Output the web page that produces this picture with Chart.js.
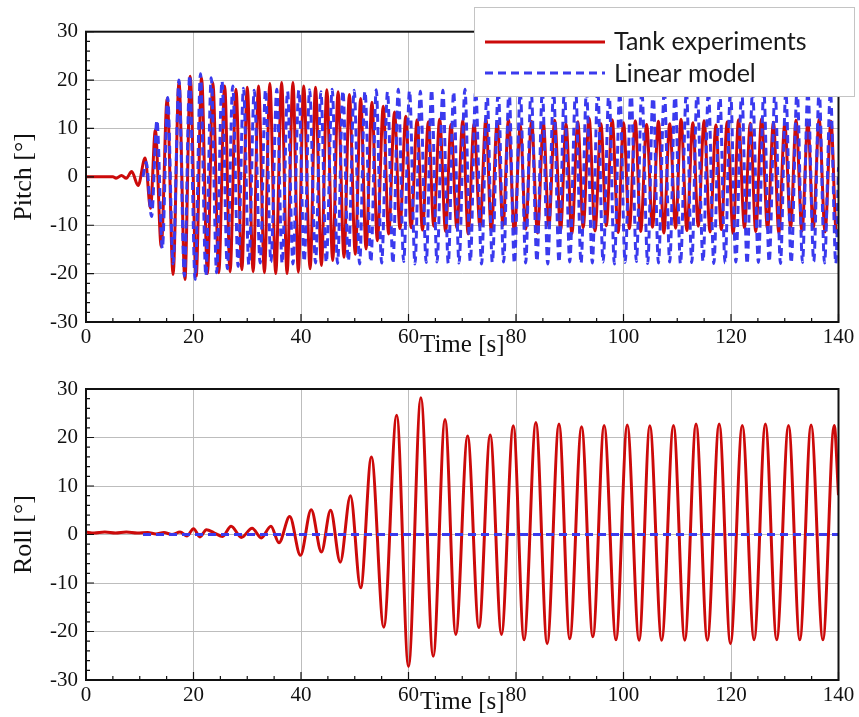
<!DOCTYPE html>
<html>
<head>
<meta charset="utf-8">
<script src="https://cdn.jsdelivr.net/npm/chart.js@4.4.1/dist/chart.umd.min.js"></script>
<style>
html, body { margin: 0; padding: 0; background: #fff; }
#wrap { position: relative; width: 859px; height: 717px; }
.box { position: absolute; left: 0; width: 859px; }
</style>
</head>
<body>
<div id="wrap">
  <div class="box" style="top:0;height:360px"><canvas id="pitchChart"></canvas></div>
  <div class="box" style="top:360px;height:357px"><canvas id="rollChart"></canvas></div>
</div>
<script>
const pitchTankT = [
  0, 5.0, 5.6, 6.6, 7.5, 8.5, 9.7, 11.0,
  12.0, 12.9, 14.0, 15.1, 16.2, 17.3, 18.4, 19.4,
  20.5, 21.5, 22.6, 23.6, 24.7, 25.8, 26.8, 27.9,
  29.0, 30.0, 31.1, 32.1, 33.2, 34.2, 35.3, 36.4,
  37.4, 38.5, 39.5, 40.5, 41.7, 42.7, 43.8, 44.8,
  45.9, 46.9, 48.0, 49.0, 50.1, 51.1, 52.1, 53.2,
  54.2, 55.3, 56.3, 57.4, 58.4, 59.5, 60.5, 61.6,
  62.6, 63.7, 64.7, 65.8, 66.9, 67.9, 69.0, 70.1,
  71.1, 72.2, 73.3, 74.4, 75.4, 76.5, 77.6, 78.6,
  79.7, 80.8, 81.8, 82.9, 84.0, 85.1, 86.1, 87.2,
  88.3, 89.3, 90.4, 91.5, 92.5, 93.6, 94.7, 95.8,
  96.8, 97.9, 99.0, 100.0, 101.1, 102.2, 103.2, 104.3,
  105.4, 106.5, 107.5, 108.6, 109.7, 110.7, 111.8, 112.9,
  113.9, 115.0, 116.1, 117.2, 118.2, 119.3, 120.4, 121.4,
  122.5, 123.6, 124.6, 125.7, 126.8, 127.9, 128.9, 130.0,
  131.1, 132.1, 133.2, 134.3, 135.3, 136.4, 137.5, 138.6,
  139.6, 140
];
const pitchTankV = [
  0, 0, -0.3, 0.3, -0.3, 1.1, -1.8, 3.9,
  -6.5, 9.7, -14.4, 16.2, -20.2, 19.7, -21.2, 20.8,
  -20.5, 20.5, -20.0, 19.5, -19.8, 18.8, -19.6, 18.1,
  -19.2, 18.5, -19.6, 18.8, -19.8, 19.3, -20.0, 19.5,
  -20.0, 19.5, -19.7, 18.8, -19.0, 18.5, -18.3, 18.0,
  -17.3, 17.6, -16.6, 17.0, -16.0, 16.2, -14.9, 15.4,
  -13.2, 14.6, -11.8, 13.4, -10.7, 12.5, -10.5, 11.8,
  -11.0, 11.4, -10.2, 11.9, -11.3, 10.8, -10.6, 11.6,
  -11.8, 11.0, -10.4, 12.0, -11.2, 11.3, -10.0, 11.8,
  -11.5, 10.6, -10.8, 11.5, -11.6, 11.1, -10.3, 11.7,
  -11.0, 10.9, -11.7, 11.4, -10.5, 12.1, -11.2, 11.0,
  -10.1, 11.8, -11.5, 11.2, -10.7, 11.6, -11.3, 10.8,
  -10.4, 11.5, -11.6, 11.0, -10.6, 11.9, -11.1, 11.2,
  -10.2, 11.6, -11.4, 10.7, -10.9, 11.4, -11.7, 11.8,
  -10.5, 11.1, -11.3, 12.0, -10.8, 11.3, -11.6, 10.9,
  -10.4, 11.7, -11.2, 11.2, -10.6, 11.9, -11.4, 11.5,
  -11.6, -11.0
];

// pitch, linear model
const pitchModelT = [
  10.6, 11.2, 12.2, 13.2, 14.2, 15.2, 16.2, 17.3,
  18.3, 19.3, 20.3, 21.3, 22.3, 23.3, 24.3, 25.3,
  26.3, 27.3, 28.3, 29.3, 30.3, 31.3, 32.4, 33.4,
  34.4, 35.5, 36.5, 37.5, 38.5, 39.6, 40.6, 41.6,
  42.7, 43.7, 44.7, 45.8, 46.8, 47.8, 48.8, 49.9,
  50.9, 51.9, 53.0, 54.0, 55.0, 56.1, 57.1, 58.1,
  59.1, 60.2, 61.2, 62.2, 63.3, 64.3, 65.3, 66.4,
  67.4, 68.4, 69.4, 70.5, 71.5, 72.5, 73.6, 74.6,
  75.6, 76.7, 77.7, 78.7, 79.7, 80.8, 81.8, 82.8,
  83.9, 84.9, 85.9, 87.0, 88.0, 89.0, 90.0, 91.1,
  92.1, 93.1, 94.2, 95.2, 96.2, 97.3, 98.3, 99.3,
  100.3, 101.4, 102.4, 103.4, 104.5, 105.5, 106.5, 107.6,
  108.6, 109.6, 110.6, 111.7, 112.7, 113.7, 114.8, 115.8,
  116.8, 117.9, 118.9, 119.9, 120.9, 122.0, 123.0, 124.0,
  125.1, 126.1, 127.1, 128.2, 129.2, 130.2, 131.2, 132.3,
  133.3, 134.3, 135.4, 136.4, 137.4, 138.5, 139.5, 140.0
];
const pitchModelV = [
  0, 3.0, -8.2, 11.7, -14.8, 16.4, -18.0, 20.0,
  -20.5, 21.0, -21.2, 21.3, -20.5, 20.5, -19.8, 19.8,
  -19.0, 18.8, -18.5, 18.3, -18.2, 17.9, -17.8, 18.0,
  -17.6, 18.1, -17.9, 17.7, -18.0, 17.9, -17.5, 18.0,
  -17.8, 17.6, -17.7, 18.1, -17.9, 17.8, -17.4, 17.9,
  -18.0, 17.7, -17.6, 18.0, -17.8, 17.6, -17.9, 18.1,
  -17.5, 17.8, -18.0, 17.7, -17.7, 18.0, -17.6, 17.9,
  -17.9, 17.6, -17.8, 18.1, -17.5, 17.8, -18.0, 17.7,
  -17.7, 17.9, -17.6, 18.0, -17.9, 17.6, -17.8, 18.1,
  -17.5, 17.8, -18.0, 17.7, -17.7, 17.9, -17.6, 18.0,
  -17.9, 17.6, -17.8, 18.1, -17.6, 17.8, -18.0, 17.7,
  -17.7, 18.0, -17.5, 17.9, -17.9, 17.6, -17.8, 18.1,
  -17.6, 17.8, -18.0, 17.7, -17.7, 18.0, -17.5, 17.9,
  -17.9, 17.6, -17.8, 18.1, -17.6, 17.8, -18.0, 17.7,
  -17.7, 17.9, -17.6, 18.0, -17.9, 17.6, -17.8, 18.1,
  -17.7, 17.9, -17.5, 18.0, -17.8, 17.6, -17.9, 2.0
];

// roll, tank experiments
const rollTankT = [
  0, 1.5, 3.5, 5.5, 7.5, 9.5, 11.5, 13.0,
  14.5, 16.0, 17.5, 18.8, 20.0, 21.2, 22.4, 23.9,
  25.4, 27.0, 28.9, 30.9, 32.6, 34.4, 35.9, 37.9,
  39.9, 41.9, 43.8, 45.5, 47.3, 49.2, 51.1, 53.1,
  55.4, 57.8, 60.0, 62.3, 64.6, 66.8, 68.8, 71.0,
  73.1, 75.2, 77.3, 79.5, 81.5, 83.7, 85.8, 88.0,
  90.0, 92.2, 94.3, 96.4, 98.6, 100.7, 102.9, 104.9,
  107.1, 109.3, 111.4, 113.5, 115.6, 117.8, 119.9, 122.1,
  124.3, 126.4, 128.5, 130.7, 132.8, 134.9, 137.1, 139.2,
  140.0
];
const rollTankV = [
  0.5, 0.3, 0.5, 0.3, 0.5, 0.3, 0.4, 0.1,
  0.4, 0.0, 0.5, -0.3, 1.2, -0.5, 1.0, 0.3,
  -0.4, 1.7, -0.6, 1.3, -0.7, 1.7, -1.7, 3.7,
  -4.3, 5.1, -3.6, 5.0, -5.7, 8.0, -11.0, 16.0,
  -19.1, 24.6, -27.2, 28.2, -25.1, 23.7, -20.6, 20.3,
  -19.2, 20.5, -20.6, 22.4, -21.7, 23.1, -22.5, 22.8,
  -21.5, 22.2, -21.1, 22.5, -21.7, 22.6, -21.8, 22.4,
  -21.8, 22.5, -21.8, 22.8, -21.8, 22.8, -22.5, 22.5,
  -21.7, 22.8, -21.7, 22.5, -21.7, 22.6, -21.7, 22.5,
  8.1
];

// roll, linear model
const rollModelT = [10.6, 140];
const rollModelV = [0, 0];

const xTicks = [0, 20, 40, 60, 80, 100, 120, 140];
const yTicks = [-30, -20, -10, 0, 10, 20, 30];

const RED = '#cc0a0a';
const BLUE = '#3a3aee';
const SERIF = 'Liberation Serif';

const toPoints = (ts, vs) => ts.map((t, i) => ({ x: t, y: vs[i] }));

// inward minor/major ticks and the black frame
const frameTicks = {
  id: 'frameTicks',
  afterDatasetsDraw(chart) {
    const { ctx, chartArea: a, scales: { x, y } } = chart;
    ctx.save();
    ctx.strokeStyle = '#111';
    ctx.lineWidth = 1.2;
    ctx.beginPath();
    for (let t = 0; t <= 140; t += 5) {
      const px = x.getPixelForValue(t);
      const len = t % 20 === 0 ? 8 : 4;
      ctx.moveTo(px, a.bottom);
      ctx.lineTo(px, a.bottom - len);
    }
    for (let v = -30; v <= 30; v += 2) {
      const py = y.getPixelForValue(v);
      const len = v % 10 === 0 ? 8 : 4;
      ctx.moveTo(a.left, py);
      ctx.lineTo(a.left + len, py);
    }
    ctx.stroke();
    ctx.lineWidth = 2;
    ctx.strokeRect(a.left, a.top, a.right - a.left, a.bottom - a.top);
    ctx.restore();
  }
};

// boxed legend that sits over the top right corner of the pitch plot
const boxLegend = {
  id: 'boxLegend',
  afterDraw(chart) {
    const ctx = chart.ctx;
    ctx.save();
    ctx.fillStyle = '#fff';
    ctx.fillRect(474, 7, 381, 90);
    ctx.strokeStyle = '#c4c4c4';
    ctx.lineWidth = 1;
    ctx.strokeRect(474.5, 7.5, 380, 89);

    ctx.lineWidth = 3;
    ctx.strokeStyle = RED;
    ctx.beginPath();
    ctx.moveTo(485, 42);
    ctx.lineTo(605, 42);
    ctx.stroke();

    ctx.strokeStyle = BLUE;
    ctx.setLineDash([8, 5]);
    ctx.beginPath();
    ctx.moveTo(485, 73);
    ctx.lineTo(605, 73);
    ctx.stroke();
    ctx.setLineDash([]);

    ctx.fillStyle = '#1a1a1a';
    ctx.font = '25px Lato';
    ctx.textBaseline = 'middle';
    ctx.fillText('Tank experiments', 614, 42);
    ctx.fillText('Linear model', 614, 74);
    ctx.restore();
  }
};

function makeScales(yTitle, xHeight) {
  return {
    x: {
      type: 'linear',
      min: 0,
      max: 140,
      afterBuildTicks: s => { s.ticks = xTicks.map(v => ({ value: v })); },
      ticks: { color: '#111', font: { family: SERIF, size: 21 }, padding: 3, maxRotation: 0, autoSkip: false },
      grid: { color: '#bdbdbd', lineWidth: 1, drawTicks: false },
      border: { display: false },
      title: { display: true, text: 'Time [s]', color: '#111', font: { family: SERIF, size: 25 }, padding: 0 },
      afterFit: s => { s.height = xHeight; s.paddingLeft = 0; s.paddingRight = 0; }
    },
    y: {
      type: 'linear',
      min: -30,
      max: 30,
      afterBuildTicks: s => { s.ticks = yTicks.map(v => ({ value: v })); },
      ticks: { color: '#111', font: { family: SERIF, size: 21 }, padding: 8 },
      grid: { color: '#bdbdbd', lineWidth: 1, drawTicks: false },
      border: { display: false },
      title: { display: true, text: yTitle, color: '#111', font: { family: SERIF, size: 26 }, padding: { top: 9, bottom: 0 } },
      afterFit: s => { s.width = 86; s.paddingTop = 0; s.paddingBottom = 0; }
    }
  };
}

function lineSet(label, pts, color, dashed) {
  return {
    label: label,
    data: pts,
    borderColor: color,
    borderWidth: 3,
    borderDash: dashed ? [8, 5] : [],
    pointRadius: 0,
    fill: false,
    cubicInterpolationMode: 'monotone',
    order: dashed ? 0 : 1
  };
}

function makeChart(id, yTitle, tank, model, padTop, xHeight, extra) {
  return new Chart(document.getElementById(id), {
    type: 'line',
    data: {
      datasets: [
        lineSet('Tank experiments', tank, RED, false),
        lineSet('Linear model', model, BLUE, true)
      ]
    },
    options: {
      responsive: true,
      maintainAspectRatio: false,
      animation: false,
      layout: { padding: { top: padTop, right: 20.5, left: 0, bottom: 0 } },
      plugins: { legend: { display: false }, tooltip: { enabled: false } },
      scales: makeScales(yTitle, xHeight)
    },
    plugins: [frameTicks].concat(extra)
  });
}

makeChart('pitchChart', 'Pitch [°]',
  toPoints(pitchTankT, pitchTankV), toPoints(pitchModelT, pitchModelV),
  31.7, 38, [boxLegend]);

makeChart('rollChart', 'Roll [°]',
  toPoints(rollTankT, rollTankV), toPoints(rollModelT, rollModelV),
  29, 37, []);
</script>
</body>
</html>
